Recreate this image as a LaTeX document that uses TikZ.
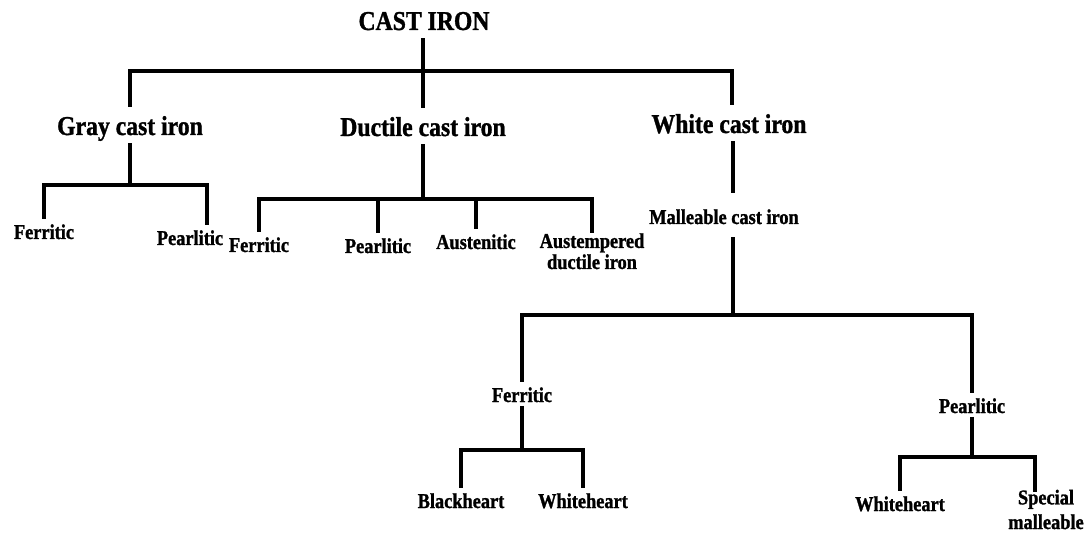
\documentclass[tikz,border=0pt]{standalone}
\usepackage{fontspec}
\setmainfont{Liberation Serif}[FakeStretch=0.87, FakeBold=1.2]
\usetikzlibrary{positioning}

\begin{document}
\begin{tikzpicture}[
    x=0.02cm, y=-0.02cm,
    big/.style={
        font=\bfseries\fontsize{15.5}{18}\selectfont,
        anchor=base, inner sep=0pt, text height=16pt, text depth=4.5pt
    },
    small/.style={
        font=\bfseries\fontsize{12}{13}\selectfont,
        anchor=base, inner sep=0pt, text height=11pt, text depth=2pt,
        align=center
    },
    tree/.style={line width=2pt},
]
\useasboundingbox (0,0) rectangle (1087,533);

%% Main classes
\node[big] (root) at (424, 30) {CAST IRON};
\node[big] (gray) at (130, 135) {Gray cast iron};
\node[big] (duct) at (423, 136) {Ductile cast iron};
\node[big] (white) at (729, 133) {White cast iron};

\coordinate (j0) at (423, 71);
\draw[tree] (root.south -| j0) -- (j0);
\draw[tree] (j0) -| (gray);
\draw[tree] (j0) -- (duct);
\draw[tree] (j0) -| ([xshift=0.06cm]white.north);

%% Gray cast iron
\node[small] (gfer) at (44, 239) {Ferritic};
\node[small] (gpea) at (190, 245) {Pearlitic};

\coordinate (jg) at (130, 185);
\draw[tree] (gray) -- (jg);
\draw[tree] (jg) -| (gfer);
\draw[tree] (jg) -| ([xshift=0.34cm]gpea.north);

%% Ductile cast iron
\node[small] (dfer) at (259, 252) {Ferritic};
\node[small] (dpea) at (378, 253) {Pearlitic};
\node[small] (daus) at (476, 249) {Austenitic};
\node[small, text height=20.5pt] (dadi) at (592, 269)
    {Austempered\\[-1pt]ductile iron};

\coordinate (jd) at (423, 199);
\draw[tree] (duct) -- (jd);
\draw[tree] (jd) -| (dfer);
\draw[tree] (jd) -| (dpea);
\draw[tree] (jd) -| (daus);
\draw[tree] (jd) -| (dadi);

%% White cast iron
\node[small, text height=17.6pt, text depth=7.4pt] (mall) at (724, 224)
    {Malleable cast iron};

\coordinate (jm) at (733, 315);
\draw[tree] (white.south -| jm) -- (jm |- mall.north);

\node[small] (mfer) at (522, 402) {Ferritic};
\node[small] (mpea) at (972, 413) {Pearlitic};

\draw[tree] (mall.south -| jm) -- (jm);
\draw[tree] (jm) -| (mfer);
\draw[tree] (jm) -| (mpea);

%% Ferritic malleable
\node[small] (fblk) at (461, 508) {Blackheart};
\node[small] (fwht) at (583, 508) {Whiteheart};

\coordinate (jf) at (522, 450);
\draw[tree] (mfer) -- (jf);
\draw[tree] (jf) -| (fblk);
\draw[tree] (jf) -| (fwht);

%% Pearlitic malleable
\node[small] (pwht) at (900, 511) {Whiteheart};
\node[small, text height=21pt] (pspm) at (1046, 529)
    {Special\\[1pt]malleable};

\coordinate (jp) at (972, 457);
\draw[tree] (mpea) -- (jp);
\draw[tree] (jp) -| (pwht);
\draw[tree] (jp) -| ([xshift=-0.22cm]pspm.north);

\end{tikzpicture}
\end{document}
